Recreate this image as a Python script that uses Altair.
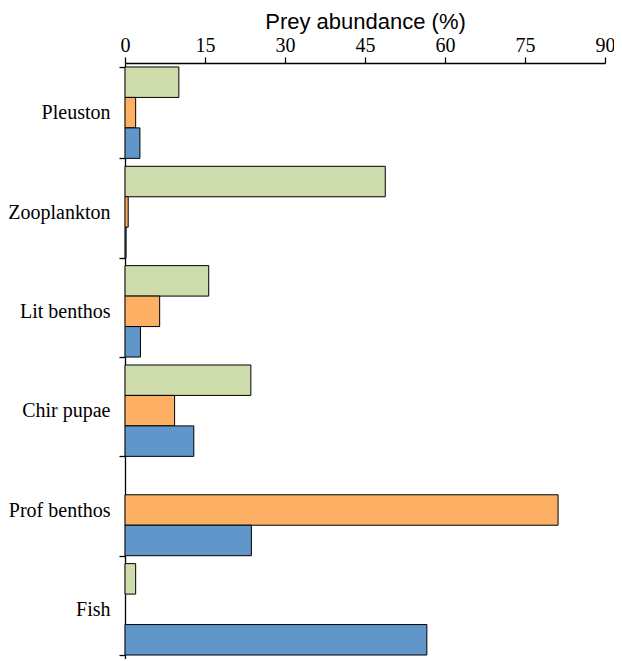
import altair as alt
import pandas as pd

categories = ["Pleuston", "Zooplankton", "Lit benthos", "Chir pupae", "Prof benthos", "Fish"]
series = ["Series 1", "Series 2", "Series 3"]
series1 = [10.1, 48.8, 15.7, 23.6, 0.0, 2.0]   # green
series2 = [2.0, 0.6, 6.5, 9.3, 81.2, 0.0]      # orange
series3 = [2.8, 0.2, 2.9, 12.9, 23.7, 56.6]    # blue
colors = ["#cddcaa", "#fdaf63", "#6196cb"]

rows = []
for s, vals in zip(series, [series1, series2, series3]):
    for c, v in zip(categories, vals):
        rows.append({"category": c, "series": s, "value": v})
df = pd.DataFrame(rows)

chart = alt.Chart(df).transform_filter(
    alt.datum.value > 0
).mark_bar(stroke="black", strokeWidth=1).encode(
    x=alt.X("value:Q",
            scale=alt.Scale(domain=[0, 90], nice=False),
            axis=alt.Axis(orient="top", values=[0, 15, 30, 45, 60, 75, 90],
                          title="Prey abundance (%)", titleFont="Liberation Sans",
                          titleFontSize=22, titleFontWeight="normal", titleColor="black",
                          titlePadding=2,
                          labelFont="Liberation Serif", labelFontSize=20, labelColor="black",
                          labelPadding=2, labelFlush=False,
                          grid=False, domainColor="black", tickColor="black",
                          tickSize=6, domainWidth=1.3, tickWidth=1.3)),
    y=alt.Y("category:N", sort=categories,
            scale=alt.Scale(paddingInner=0.08, paddingOuter=0.04),
            axis=alt.Axis(title=None, tickBand="extent",
                          labelFont="Liberation Serif", labelFontSize=20, labelColor="black",
                          labelPadding=9, grid=False, domainColor="black",
                          tickColor="black", tickSize=6, domainWidth=1.3, tickWidth=1.3)),
    yOffset=alt.YOffset("series:N", sort=series,
                        scale=alt.Scale(domain=series, paddingInner=0, paddingOuter=0)),
    color=alt.Color("series:N", scale=alt.Scale(domain=series, range=colors), legend=None),
).properties(
    width=480, height=596,
    autosize=alt.AutoSizeParams(type="none"),
    padding={"left": 117, "top": 55, "right": 9, "bottom": 0},
).configure_view(stroke=None)

chart.save("out.html", embed_options={"renderer": "svg", "actions": False})
